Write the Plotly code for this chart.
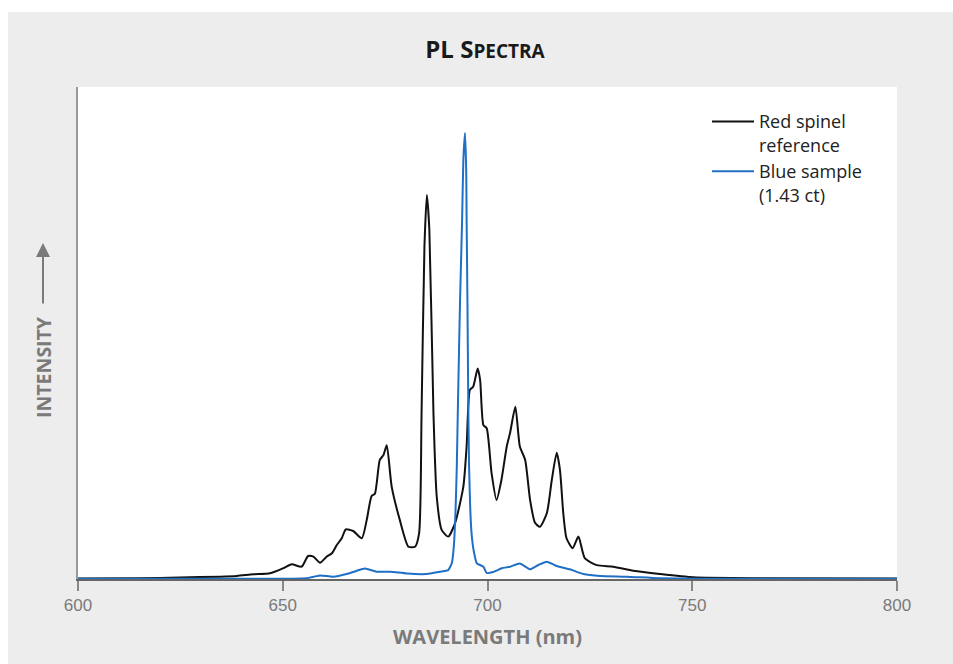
import plotly.graph_objects as go

# Red spinel reference (black)
red_nm = [600.0, 615.1, 624.9, 634.7, 638.8, 642.8, 646.9, 650.1, 652.2, 654.6, 656.2, 657.5,
          659.1, 660.7, 662.0, 663.2, 664.4, 665.4, 667.2, 669.3, 670.5, 671.7, 672.5, 673.7,
          674.6, 675.4, 676.6, 678.6, 680.7, 682.3, 683.3, 683.9, 684.6, 685.2, 685.8, 686.8,
          687.6, 688.8, 690.4, 692.1, 694.1, 694.9, 695.7, 696.5, 697.6, 698.2, 699.0, 699.8,
          701.0, 702.2, 703.4, 704.7, 705.5, 706.8, 707.9, 709.2, 710.4, 711.6, 712.8, 714.5,
          715.7, 716.9, 717.7, 718.5, 719.3, 720.8, 722.2, 723.8, 726.7, 730.7, 735.6, 742.1,
          750.3, 766.5, 800.0]
red_int = [0.1, 0.16, 0.34, 0.52, 0.67, 1.05, 1.28, 2.4, 3.3, 2.76, 5.16, 5.0,
           3.65, 5.0, 5.76, 7.62, 9.13, 11.14, 10.76, 9.13, 13.2, 18.6, 19.1, 26.7,
           27.8, 30.0, 20.7, 13.2, 7.24, 7.24, 10.3, 37.2, 74.5, 86.1, 78.3, 37.2,
           18.5, 11.0, 9.5, 12.6, 20.7, 29.7, 42.4, 43.1, 47.2, 44.6, 34.5, 33.8,
           23.7, 17.7, 22.2, 29.7, 32.7, 38.6, 29.7, 26.7, 17.7, 12.6, 11.7, 14.8,
           22.2, 28.3, 24.4, 14.8, 9.13, 6.9, 9.5, 4.6, 3.1, 2.76, 1.86, 1.12,
           0.38, 0.16, 0.1]

# Blue sample (1.43 ct)
blue_nm = [600.0, 629.8, 651.8, 655.8, 659.1, 662.3, 665.6, 668.1, 670.1, 672.9, 676.2, 680.3,
           685.1, 688.4, 690.4, 691.3, 691.8, 692.2, 692.5, 692.8, 693.3, 693.8, 694.1, 694.5,
           694.8, 694.9, 695.1, 695.3, 695.5, 695.8, 696.1, 696.6, 697.4, 699.0, 699.8, 701.4,
           703.5, 705.5, 707.9, 710.4, 712.4, 714.5, 716.9, 720.1, 723.4, 727.5, 733.9, 742.0,
           751.9, 800.0]
blue_int = [0.04, 0.04, 0.07, 0.16, 0.78, 0.52, 1.12, 1.86, 2.35, 1.64, 1.64, 1.23,
            1.12, 1.64, 2.0, 3.6, 7.6, 15.5, 25.2, 40.1, 62.6, 80.5, 93.9, 100.0,
            91.7, 80.5, 62.6, 40.1, 25.2, 15.5, 10.3, 6.5, 3.5, 2.76, 1.35, 1.57,
            2.4, 2.76, 3.5, 2.17, 3.14, 3.88, 2.91, 2.17, 1.12, 0.67, 0.52, 0.16,
            0.07, 0.04]

x_ticks = [600, 650, 700, 750, 800]

GREY = "#7a7a7a"
TITLE_FONT = "Open Sans, Lato, sans-serif"

fig = go.Figure()
fig.add_trace(go.Scatter(x=red_nm, y=red_int, mode="lines", name="Red spinel<br>reference",
                         line=dict(color="#111111", width=2, shape="spline", smoothing=0.6)))
fig.add_trace(go.Scatter(x=blue_nm, y=blue_int, mode="lines", name="Blue sample<br>(1.43 ct)",
                         line=dict(color="#1f6fc5", width=2, shape="spline", smoothing=0.5)))

fig.update_layout(
    width=953, height=664,
    margin=dict(l=78, r=56, t=87, b=85),
    paper_bgcolor="#ededed",
    plot_bgcolor="white",
    showlegend=True,
    legend=dict(x=(707 - 78) / 819, xanchor="left", y=0.967, yanchor="top", valign="top",
                itemwidth=42,
                bgcolor="rgba(0,0,0,0)", font=dict(family="Open Sans, sans-serif", size=18, color="#222222"),
                tracegroupgap=0),
    title=dict(text="<b>PL S<span style='font-size:19px'>PECTRA</span></b>",
               x=485 / 953, xanchor="center", xref="container", y=1 - 50 / 664, yanchor="middle",
               font=dict(family=TITLE_FONT, size=24, color="#1a1a1a")),
    xaxis=dict(range=[600, 800], tickvals=x_ticks, ticktext=[str(v) for v in x_ticks],
               showgrid=False, zeroline=False, showline=True, linecolor="#666666", linewidth=2,
               ticks="outside", ticklen=10, tickwidth=1.5, tickcolor="#888888",
               tickfont=dict(family="Liberation Sans, Arial, sans-serif", size=17, color=GREY)),
    yaxis=dict(range=[0, 110.3], showgrid=False, zeroline=False, showline=True,
               linecolor="#999999", linewidth=1.5, showticklabels=False, ticks=""),
    shapes=[
        dict(type="rect", xref="paper", yref="paper", x0=-0.2, x1=1.2, y0=1 + 75 / 492, y1=1.3,
             fillcolor="white", line=dict(width=0), layer="below"),
        dict(type="rect", xref="paper", yref="paper", x0=-0.2, x1=-70 / 819, y0=-0.3, y1=1.3,
             fillcolor="white", line=dict(width=0), layer="below"),
    ],
    annotations=[
        dict(text="<b>WAVELENGTH (nm)</b>", xref="paper", yref="paper", x=(487 - 78) / 819, y=-57 / 492,
             xanchor="center", yanchor="middle", showarrow=False,
             font=dict(family=TITLE_FONT, size=20, color=GREY)),
        dict(text="<b>INTENSITY</b>", xref="paper", yref="paper", x=-35 / 819, y=(579 - 367) / 492,
             xanchor="center", yanchor="middle", textangle=-90, showarrow=False,
             font=dict(family=TITLE_FONT, size=19.5, color=GREY)),
        dict(text="", xref="paper", yref="paper", x=-35 / 819, y=(579 - 243) / 492,
             ax=0, ay=62, showarrow=True, arrowhead=2, arrowsize=1.4, arrowwidth=2,
             arrowcolor=GREY),
    ],
)

fig.write_html("out.html", config={"displayModeBar": False},
               post_script="document.body.style.margin='0';")
